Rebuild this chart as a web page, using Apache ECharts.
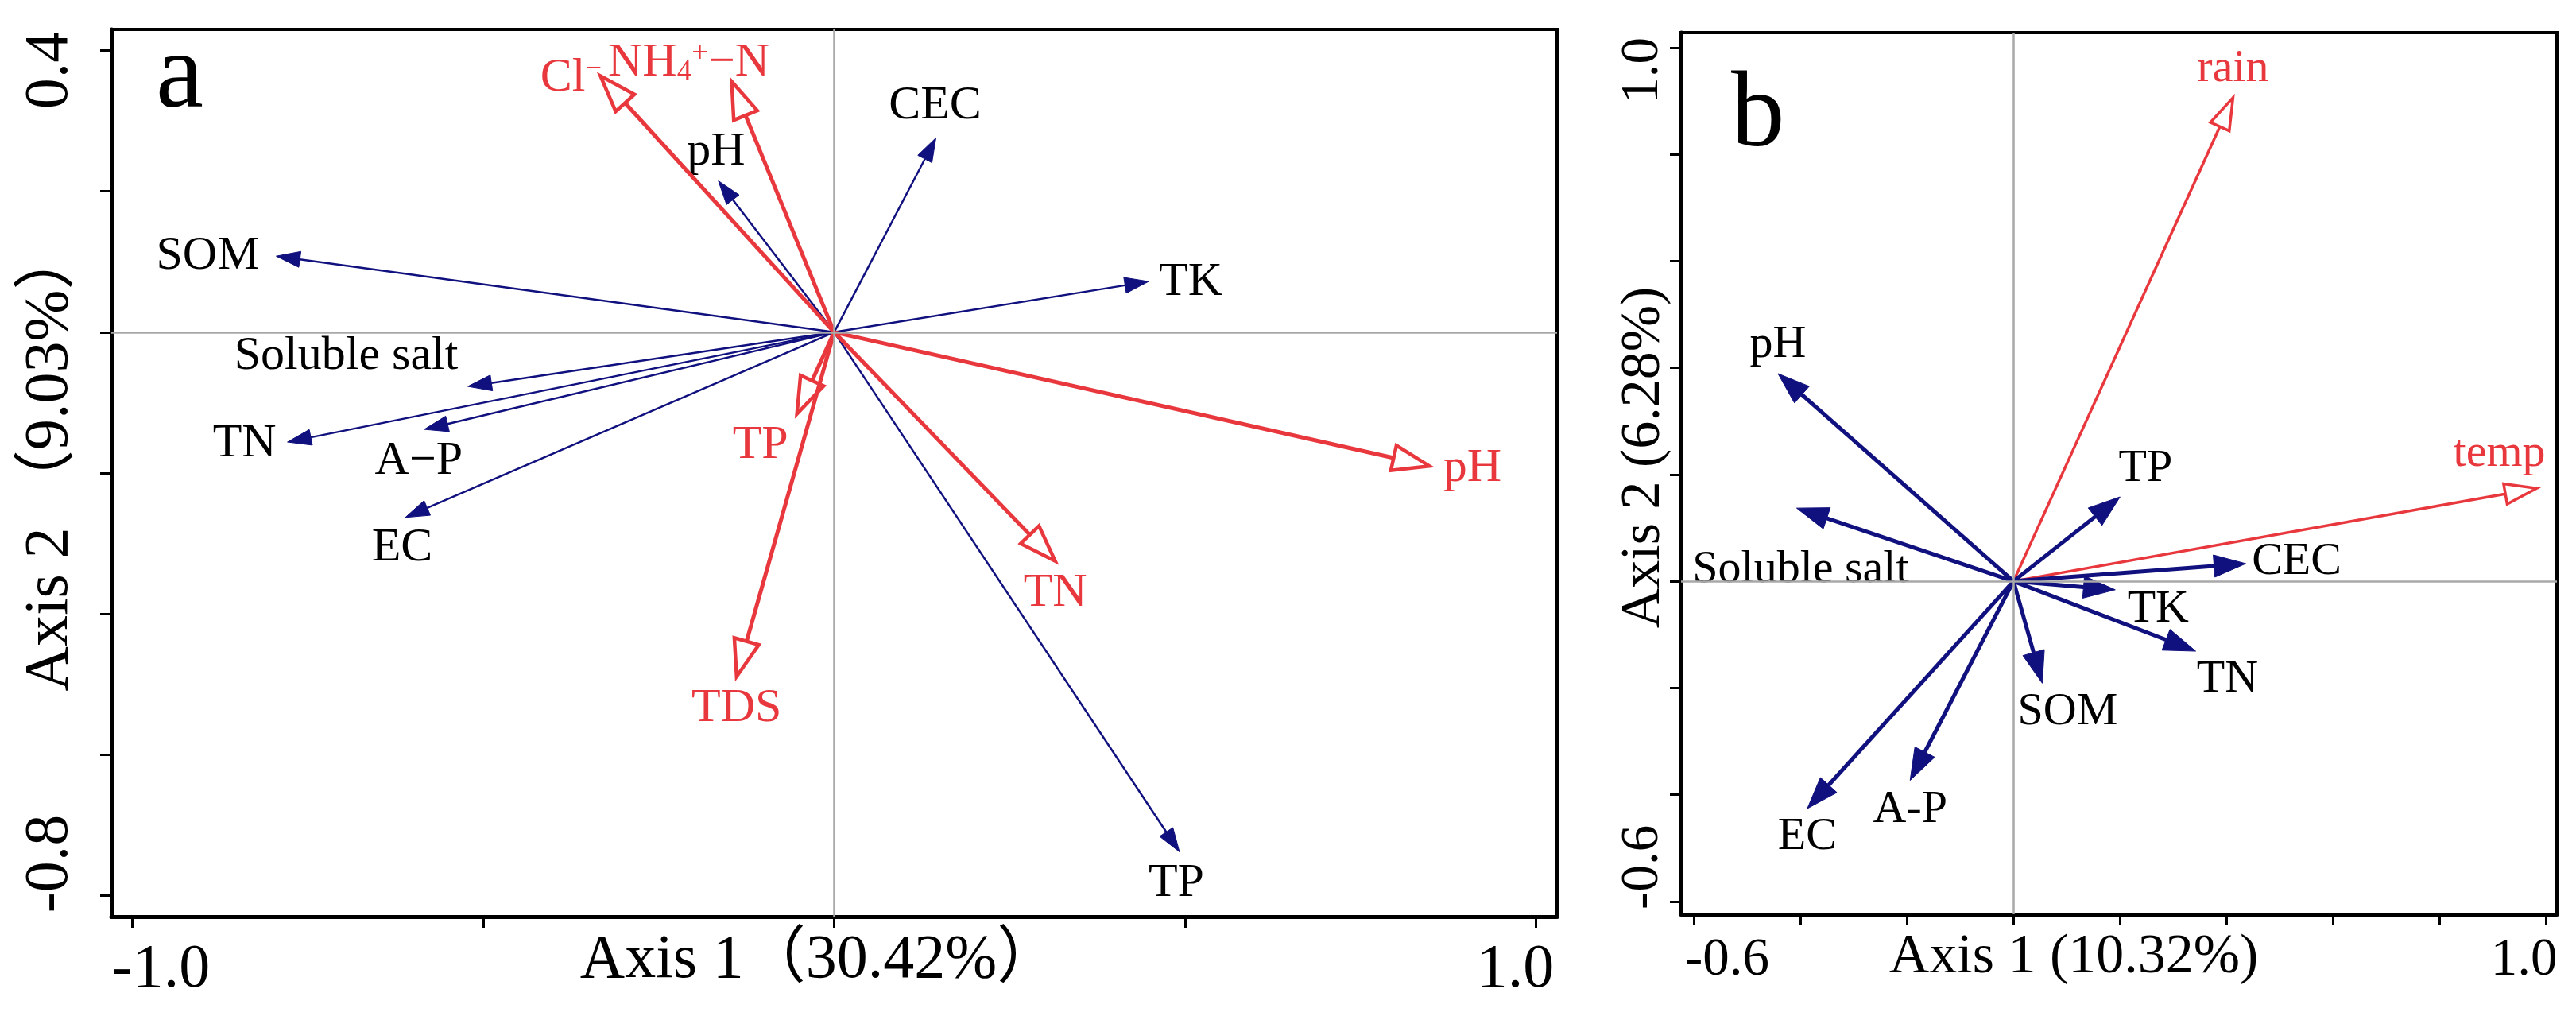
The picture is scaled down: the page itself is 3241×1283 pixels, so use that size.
<!DOCTYPE html>
<html>
<head>
<meta charset="utf-8">
<script src="https://cdn.jsdelivr.net/npm/echarts@6/dist/echarts.min.js"></script>
<style>
html,body{margin:0;padding:0;background:#fff;}
#chart{width:3241px;height:1283px;}
</style>
</head>
<body>
<div id="chart"></div>
<script>
// ---------------- DATA ----------------
// Panel a: soil variables (blue, filled heads)
const soilNamesA = ['SOM', 'Soluble salt', 'TN', 'A\u2212P', 'EC', 'pH', 'CEC', 'TK', 'TP'];
const soilXA     = [-0.795, -0.522, -0.779, -0.584, -0.611, -0.165, 0.145, 0.448, 0.492];
const soilYA     = [ 0.108, -0.077, -0.156, -0.138, -0.263,  0.215, 0.276, 0.072, -0.738];
// Panel a: water variables (red, open heads)
const waterNamesA = ['Cl{sup|\u2212}', 'NH{sub|4}{sup|+}\u2212N', 'TP', 'TDS', 'pH', 'TN'];
const waterXA     = [-0.333, -0.146, -0.053, -0.139, 0.848, 0.315];
const waterYA     = [ 0.364,  0.356, -0.116, -0.489, -0.190, -0.325];
// Panel b: soil variables (blue, filled heads)
const soilNamesB = ['pH', 'Soluble salt', 'TP', 'CEC', 'TK', 'TN', 'SOM', 'A-P', 'EC'];
const soilXB     = [-0.442, -0.407, 0.200, 0.436, 0.191, 0.342, 0.054, -0.194, -0.387];
const soilYB     = [ 0.389,  0.137, 0.158, 0.033, -0.016, -0.131, -0.191, -0.373, -0.426];
// Panel b: climate variables (red, open heads)
const climNamesB = ['rain', 'temp'];
const climXB     = [0.412, 0.982];
const climYB     = [0.906, 0.174];
// Axis tick values / labels
const ticksXA = [-1.0, -0.5, 0, 0.5, 1.0];
const ticksYA = [0.4, 0.2, 0, -0.2, -0.4, -0.6, -0.8];
const labelsXA = [-1.0, 1.0];
const labelsYA = [0.4, -0.8];
const ticksB = [-0.6, -0.4, -0.2, 0, 0.2, 0.4, 0.6, 0.8, 1.0];
const labelsXB = [-0.6, 1.0];
const labelsYB = [1.0, -0.6];
const axisNames = {
  xA: 'Axis 1\uFF0830.42%\uFF09',
  yA: 'Axis 2 \uFF089.03%\uFF09',
  xB: 'Axis 1 (10.32%)',
  yB: 'Axis 2 (6.28%)'
};

// ---------------- LAYOUT / STYLE ----------------
const SERIF = '"Liberation Serif", "Times New Roman", "Noto Sans CJK SC", serif';
const RED = '#E8383D';
const NAVY = '#10107E';
const GRAY = '#A8A8A8';

// label centre offsets (px) relative to arrow tips
const offSoilA  = [[-86,0],[-153,-38],[-54,2],[-7,40],[-4,38],[-3,-36],[-1,-40],[53,1],[-4,40]];
const offWaterA = [[-37,3],[-54,-23],[-46,40],[0,40],[54,3],[0,41]];
const offSoilB  = [[0,-36],[5,78],[32,-35],[64,-2],[54,25],[40,36],[32,36],[0,37],[0,36]];
const offClimB  = [[0,-36],[-47,-44]];

function zip(xs, ys) { return xs.map((x, i) => [x, ys[i]]); }

function arrowSeries(opts) {
  return {
    type: 'custom',
    xAxisIndex: opts.axis, yAxisIndex: opts.axis,
    coordinateSystem: 'cartesian2d',
    data: zip(opts.xs, opts.ys),
    encode: { x: 0, y: 1 },
    clip: false,
    silent: true,
    z: opts.z,
    renderItem: function (params, api) {
      const o = api.coord([0, 0]);
      const t = api.coord([api.value(0), api.value(1)]);
      const dx = t[0] - o[0], dy = t[1] - o[1];
      const L = Math.sqrt(dx * dx + dy * dy) || 1;
      const ux = dx / L, uy = dy / L;
      const bx = t[0] - ux * opts.headLen, by = t[1] - uy * opts.headLen;
      const px = -uy * opts.headHalf, py = ux * opts.headHalf;
      const off = opts.offsets[params.dataIndex];
      return {
        type: 'group',
        children: [
          { type: 'line', shape: { x1: o[0], y1: o[1], x2: bx, y2: by },
            style: { stroke: opts.color, lineWidth: opts.lineWidth, lineCap: 'butt' } },
          { type: 'polygon', shape: { points: [[t[0], t[1]], [bx + px, by + py], [bx - px, by - py]] },
            style: { fill: opts.open ? '#fff' : opts.color, stroke: opts.color,
                     lineWidth: opts.open ? opts.headStroke : 1, lineJoin: 'miter' } },
          { type: 'text', z2: 10,
            style: { text: opts.names[params.dataIndex], x: t[0] + off[0], y: t[1] + off[1],
                     align: 'center', verticalAlign: 'middle',
                     fill: opts.textColor, fontSize: opts.fontSize, fontFamily: SERIF,
                     rich: {
                       sup: { fontSize: Math.round(opts.fontSize * 0.62), fontFamily: SERIF, fill: opts.textColor, verticalAlign: 'top', padding: [0, 0, 0, 0] },
                       sub: { fontSize: Math.round(opts.fontSize * 0.62), fontFamily: SERIF, fill: opts.textColor, verticalAlign: 'bottom' }
                     } } }
        ]
      };
    }
  };
}

function zeroLines(axis) {
  return {
    type: 'line', xAxisIndex: axis, yAxisIndex: axis, data: [], z: 1, silent: true,
    markLine: {
      silent: true, symbol: ['none', 'none'], animation: false,
      label: { show: false },
      lineStyle: { color: GRAY, width: 2.5, type: 'solid' },
      data: [{ xAxis: 0 }, { yAxis: 0 }]
    }
  };
}

function richLbl(size, padA, padB) {
  return {
    s: { fontSize: size, fontFamily: SERIF, color: '#000', padding: padA },
    e: { fontSize: size, fontFamily: SERIF, color: '#000', padding: padB }
  };
}

const chart = echarts.init(document.getElementById('chart'), null, { renderer: 'canvas' });

const option = {
  backgroundColor: '#fff',
  animation: false,
  title: [
    { text: 'a', left: 196, top: 31, padding: 0, textStyle: { fontSize: 135, fontWeight: 'normal', fontFamily: SERIF, color: '#000' } },
    { text: 'b', left: 2178, top: 80, padding: 0, textStyle: { fontSize: 135, fontWeight: 'normal', fontFamily: SERIF, color: '#000' } }
  ],
  grid: [
    { left: 140, top: 37, width: 1819, height: 1116, show: true, borderColor: '#000', borderWidth: 4, backgroundColor: 'transparent', containLabel: false, outerBoundsMode: 'none' },
    { left: 2115, top: 41, width: 1102, height: 1109, show: true, borderColor: '#000', borderWidth: 4, backgroundColor: 'transparent', containLabel: false, outerBoundsMode: 'none' }
  ],
  xAxis: [
    {
      gridIndex: 0, type: 'value', min: -1.03, max: 1.03,
      axisLine: { show: true, onZero: false, lineStyle: { color: '#000', width: 5 } },
      axisTick: { show: true, customValues: ticksXA, length: 14, lineStyle: { color: '#000', width: 3 } },
      splitLine: { show: false },
      axisLabel: {
        customValues: labelsXA, margin: 29,
        formatter: v => (v < 0 ? '{s|' : '{e|') + v.toFixed(1) + '}',
        rich: richLbl(78, [0, 0, 0, 72], [0, 52, 0, 0])
      },
      name: axisNames.xA, nameLocation: 'middle', nameGap: 17, nameMoveOverlap: false,
      nameTextStyle: { fontSize: 78, fontFamily: SERIF, color: '#000', padding: [0, 37, 0, 0] }
    },
    {
      gridIndex: 1, type: 'value', min: -0.624, max: 1.02,
      axisLine: { show: true, onZero: false, lineStyle: { color: '#000', width: 5 } },
      axisTick: { show: true, customValues: ticksB, length: 14, lineStyle: { color: '#000', width: 3 } },
      splitLine: { show: false },
      axisLabel: {
        customValues: labelsXB, margin: 25,
        formatter: v => (v < 0 ? '{s|' : '{e|') + v.toFixed(1) + '}',
        rich: richLbl(67, [0, 0, 0, 84], [0, 56, 0, 0])
      },
      name: axisNames.xB, nameLocation: 'middle', nameGap: 20, nameMoveOverlap: false,
      nameTextStyle: { fontSize: 70, fontFamily: SERIF, color: '#000', padding: [0, 114, 0, 0] }
    }
  ],
  yAxis: [
    {
      gridIndex: 0, type: 'value', min: -0.83, max: 0.43,
      axisLine: { show: true, onZero: false, lineStyle: { color: '#000', width: 5 } },
      axisTick: { show: true, customValues: ticksYA, length: 14, lineStyle: { color: '#000', width: 3 } },
      splitLine: { show: false },
      axisLabel: {
        customValues: labelsYA, margin: 37, rotate: 90,
        formatter: v => (v > 0 ? '{e|' : '{s|') + v.toFixed(1) + '}',
        rich: richLbl(78, [0, 0, 0, 80], [0, 50, 0, 0])
      },
      name: axisNames.yA, nameLocation: 'middle', nameGap: 37, nameMoveOverlap: false,
      nameTextStyle: { fontSize: 78, fontFamily: SERIF, color: '#000', padding: [0, 0, 0, 34] }
    },
    {
      gridIndex: 1, type: 'value', min: -0.624, max: 1.028,
      axisLine: { show: true, onZero: false, lineStyle: { color: '#000', width: 5 } },
      axisTick: { show: true, customValues: ticksB, length: 14, lineStyle: { color: '#000', width: 3 } },
      splitLine: { show: false },
      axisLabel: {
        customValues: labelsYB, margin: 14, rotate: 90,
        formatter: v => (v > 0 ? '{e|' : '{s|') + v.toFixed(1) + '}',
        rich: richLbl(67, [0, 0, 0, 86], [0, 58, 0, 0])
      },
      name: axisNames.yB, nameLocation: 'middle', nameGap: 11, nameMoveOverlap: false,
      nameTextStyle: { fontSize: 70, fontFamily: SERIF, color: '#000', padding: [0, 0, 0, 40] }
    }
  ],
  series: [
    zeroLines(0),
    zeroLines(1),
    arrowSeries({ axis: 0, xs: soilXA, ys: soilYA, names: soilNamesA, offsets: offSoilA,
      color: NAVY, textColor: '#000', lineWidth: 2.5, headLen: 30, headHalf: 10, open: false, fontSize: 60, z: 3 }),
    arrowSeries({ axis: 0, xs: waterXA, ys: waterYA, names: waterNamesA, offsets: offWaterA,
      color: RED, textColor: RED, lineWidth: 5, headLen: 46, headHalf: 16, headStroke: 4.5, open: true, fontSize: 60, z: 4 }),
    arrowSeries({ axis: 1, xs: climXB, ys: climYB, names: climNamesB, offsets: offClimB,
      color: RED, textColor: RED, lineWidth: 3.5, headLen: 40, headHalf: 13, headStroke: 3.5, open: true, fontSize: 58, z: 3 }),
    arrowSeries({ axis: 1, xs: soilXB, ys: soilYB, names: soilNamesB, offsets: offSoilB,
      color: NAVY, textColor: '#000', lineWidth: 5, headLen: 40, headHalf: 14, open: false, fontSize: 58, z: 4 })
  ]
};
chart.setOption(option);
</script>
</body>
</html>
